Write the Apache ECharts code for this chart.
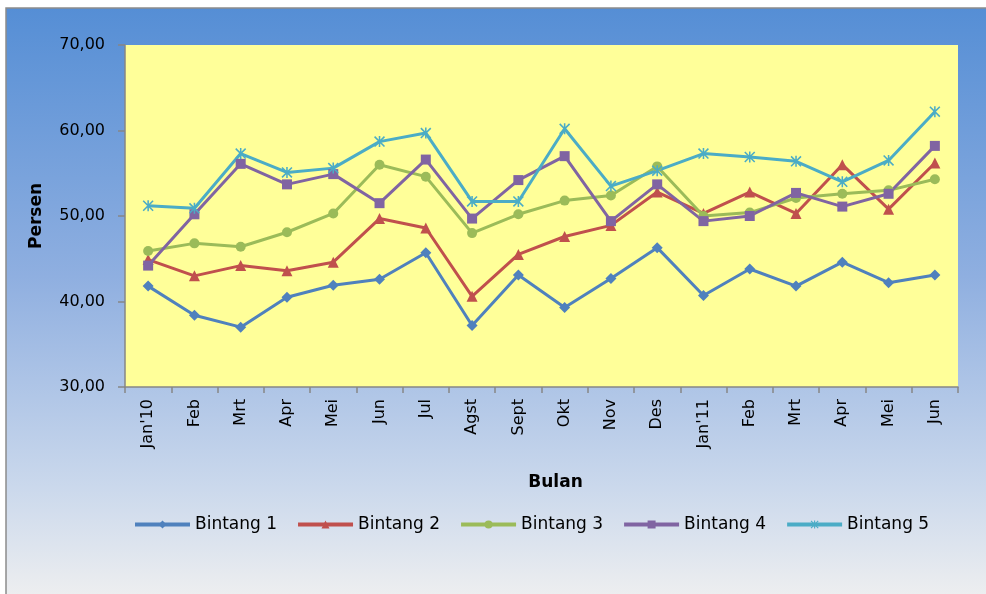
<!DOCTYPE html>
<html>
<head>
<meta charset="utf-8">
<script src="https://cdn.jsdelivr.net/npm/echarts@6/dist/echarts.min.js"></script>
<style>
    html, body { margin: 0; padding: 0; background: #fff; }
    #chart { width: 986px; height: 594px; }
</style>
</head>
<body>
<div id="chart"></div>
<script>
// Persen per bulan, Bintang 1..5
const months = ["Jan'10", 'Feb', 'Mrt', 'Apr', 'Mei', 'Jun', 'Jul', 'Agst', 'Sept', 'Okt',
                'Nov', 'Des', "Jan'11", 'Feb', 'Mrt', 'Apr', 'Mei', 'Jun'];

const bintang1 = [41.8, 38.4, 37.0, 40.5, 41.9, 42.6, 45.7, 37.2, 43.1, 39.3, 42.7, 46.3, 40.7, 43.8, 41.8, 44.6, 42.2, 43.1];
const bintang2 = [44.9, 43.0, 44.2, 43.6, 44.6, 49.7, 48.6, 40.6, 45.5, 47.6, 48.9, 52.8, 50.3, 52.8, 50.3, 56.0, 50.8, 56.2];
const bintang3 = [45.9, 46.8, 46.4, 48.1, 50.3, 56.0, 54.6, 48.0, 50.2, 51.8, 52.4, 55.8, 50.0, 50.4, 52.1, 52.6, 53.0, 54.3];
const bintang4 = [44.2, 50.2, 56.1, 53.7, 54.9, 51.5, 56.6, 49.7, 54.2, 57.0, 49.4, 53.7, 49.4, 50.0, 52.7, 51.1, 52.6, 58.2];
const bintang5 = [51.2, 50.9, 57.3, 55.1, 55.6, 58.7, 59.7, 51.7, 51.7, 60.2, 53.5, 55.3, 57.3, 56.9, 56.4, 54.0, 56.5, 62.2];

const seriesNames = ['Bintang 1', 'Bintang 2', 'Bintang 3', 'Bintang 4', 'Bintang 5'];
const yTicks = { min: 30, max: 70, interval: 10 };

const colors = ['#4F81BD', '#C0504D', '#9BBB59', '#8064A2', '#4BACC6'];
const asterisk = 'path://M4.3 0L5.7 0L5.7 10L4.3 10Z M0 1L1 0L10 9L9 10Z M9 0L10 1L1 10L0 9Z';
const symbols = [
    { symbol: 'diamond', size: 11 },
    { symbol: 'triangle', size: 11 },
    { symbol: 'circle', size: 10 },
    { symbol: 'rect', size: 10 },
    { symbol: asterisk, size: 11 },
];

const font = 'DejaVu Sans';
const chart = echarts.init(document.getElementById('chart'));

chart.setOption({
    color: colors,
    graphic: [{
        type: 'rect',
        z: -10,
        silent: true,
        shape: { x: 6, y: 8, width: 990, height: 596 },
        style: {
            fill: new echarts.graphic.LinearGradient(0, 0, 0, 1, [
                { offset: 0, color: '#558ED5' },
                { offset: 0.45, color: '#8FAFE0' },
                { offset: 0.8, color: '#CAD8EC' },
                { offset: 1, color: '#F0F0F0' },
            ]),
            stroke: '#8C8C8C',
            lineWidth: 1.5,
        },
    }],
    grid: {
        left: 125, right: 28, top: 45, bottom: 207,
        show: true, backgroundColor: '#FFFF99', borderWidth: 0,
    },
    legend: {
        data: seriesNames,
        left: 128,
        top: 511,
        itemWidth: 55,
        itemHeight: 10,
        itemGap: 19,
        lineStyle: { width: 4 },
        textStyle: { fontFamily: font, fontSize: 17, color: '#000' },
    },
    xAxis: {
        type: 'category',
        data: months,
        boundaryGap: true,
        name: 'Bulan',
        nameLocation: 'middle',
        nameGap: 87,
        nameTextStyle: { fontFamily: font, fontSize: 17, fontWeight: 'bold', color: '#000', padding: [0, 0, 0, 28] },
        axisLine: { lineStyle: { color: '#868686', width: 1.5 } },
        axisTick: { show: true, inside: false, length: 6, alignWithLabel: false, lineStyle: { color: '#868686', width: 1.5 } },
        axisLabel: { rotate: 90, margin: 12, interval: 0, fontFamily: font, fontSize: 16, color: '#000' },
    },
    yAxis: {
        type: 'value',
        min: yTicks.min,
        max: yTicks.max,
        interval: yTicks.interval,
        name: 'Persen',
        nameLocation: 'middle',
        nameGap: 80,
        nameTextStyle: { fontFamily: font, fontSize: 17, fontWeight: 'bold', color: '#000' },
        splitLine: { show: false },
        axisLine: { show: true, lineStyle: { color: '#868686', width: 1.5 } },
        axisTick: { show: true, length: 7, lineStyle: { color: '#868686', width: 1.5 } },
        axisLabel: {
            margin: 20, fontFamily: font, fontSize: 16, color: '#000',
            formatter: v => v.toFixed(2).replace('.', ','),
        },
    },
    series: [bintang1, bintang2, bintang3, bintang4, bintang5].map((d, i) => ({
        name: seriesNames[i],
        type: 'line',
        data: d,
        symbol: symbols[i].symbol,
        symbolSize: symbols[i].size,
        showAllSymbol: true,
        lineStyle: { width: 3, color: colors[i] },
        itemStyle: { color: colors[i], borderWidth: 0 },
        animation: false,
    })),
    animation: false,
});
</script>
</body>
</html>
